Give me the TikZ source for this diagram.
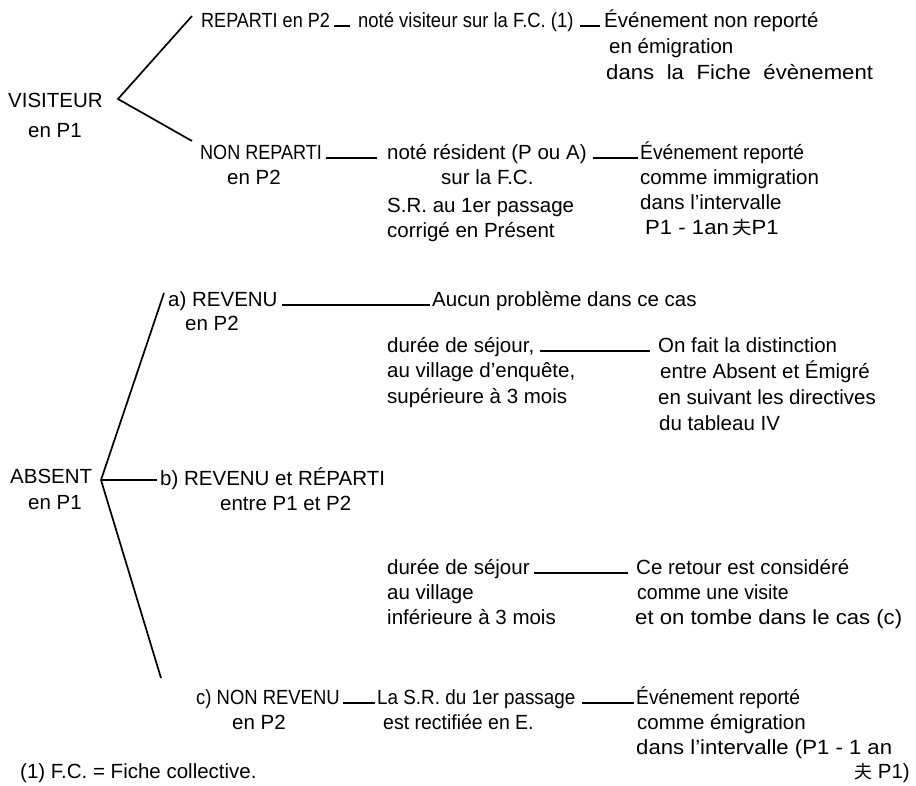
\documentclass[tikz,border=0pt]{standalone}
\usepackage{fontspec}
\setmainfont{Liberation Sans}
\newfontfamily\cjk{Noto Sans CJK SC}
\usetikzlibrary{calc}
\newcommand{\sx}[2]{\scalebox{#1}[1]{#2}}
\newcommand{\cj}{{\cjk\fontsize{18}{20}\selectfont 夫}}
\begin{document}
\begin{tikzpicture}[x=1pt,y=-1pt,
  txt/.style={anchor=base west, inner sep=0pt, font=\fontsize{20.5}{25}\selectfont},
  conn/.style={line width=1.3pt},
  brk/.style={line width=1.7pt, line join=miter}]
\useasboundingbox (0,0) rectangle (916,785);
% ---------- VISITEUR ----------
\node[txt] (vis)  at (8,107)  {VISITEUR};
\node[txt] (visb) at (28,137) {en P1};
\coordinate (vv) at (118,99);
\coordinate (vt) at (192,16);
\coordinate (vb) at (192,141);
\draw[brk] (vt) -- (vv) -- (vb);
% row 1
\node[txt] (rep)  at (201,27) {\sx{0.88}{REPARTI en P2}};
\node[txt] (nv)   at (358,27) {\sx{0.9}{noté visiteur sur la F.C. (1)}};
\node[txt] (e1)   at (604,27) {Événement non reporté};
\node[txt] (e1b)  at (609,53) {en émigration};
\node[txt] (e1c)  at (606,79) {\sx{1.08}{dans\hspace{6pt} la\hspace{6pt} Fiche\hspace{6pt} évènement}};
\draw[conn] ($(rep.base east)+(4,-1)$) -- ($(nv.base west)+(-8,-1)$);
\draw[conn] ($(nv.base east)+(6,-1)$) -- ($(e1.base west)+(-4,-1)$);
% row 2
\node[txt] (nr)    at (200,159) {\sx{0.88}{NON REPARTI}};
\node[txt] (nrb)   at (227,184) {en P2};
\node[txt] (nres)  at (387,159) {noté résident (P ou A)};
\node[txt] (nresb) at (441,184) {sur la F.C.};
\node[txt] (sr)    at (387,212) {S.R. au 1er passage};
\node[txt] (srb)   at (387,237) {corrigé en Présent};
\node[txt] (e2)    at (640,159) {\sx{0.94}{Événement reporté}};
\node[txt] (e2b)   at (640,184) {comme immigration};
\node[txt] (e2c)   at (640,209) {dans l'intervalle};
\node[txt] (e2d)   at (645,234) {\sx{1.08}{P1\;-\;1an\hspace{3pt}\cj P1}};
\draw[conn] ($(nr.base east)+(4,-1)$) -- ($(nres.base west)+(-10,-1)$);
\draw[conn] ($(nres.base east)+(6,-1)$) -- ($(e2.base west)+(-2,-1)$);
% ---------- ABSENT ----------
\node[txt] (abs)  at (10,483) {ABSENT};
\node[txt] (absb) at (28,509) {en P1};
\coordinate (av) at (101,480);
\coordinate (at) at (164,293);
\coordinate (ab) at (161,678);
\draw[brk] (at) -- (av) -- (ab);
% a)
\node[txt] (ra)  at (168,306) {a) REVENU};
\node[txt] (rab) at (185,330) {en P2};
\node[txt] (auc) at (432,306) {Aucun problème dans ce cas};
\draw[conn] ($(ra.base east)+(4,-1)$) -- ($(auc.base west)+(-2,-1)$);
\node[txt] (d1)  at (387,352) {durée de séjour,};
\node[txt] (d1b) at (387,377) {au village d’enquête,};
\node[txt] (d1c) at (387,403) {supérieure à 3 mois};
\node[txt] (of)  at (658,352) {On fait la distinction};
\node[txt] (ofb) at (660,378) {entre Absent et Émigré};
\node[txt] (ofc) at (658,404) {en suivant les directives};
\node[txt] (ofd) at (659,430) {du tableau IV};
\draw[conn] ($(d1.base east)+(6,-1)$) -- ($(of.base west)+(-8,-1)$);
% b)
\node[txt] (rb)  at (160,485) {b) REVENU et RÉPARTI};
\node[txt] (rbb) at (220,510) {entre P1 et P2};
\draw[conn] (av) -- ($(av -| rb.west)+(-3,0)$);
\node[txt] (d2)  at (387,574) {durée de séjour};
\node[txt] (d2b) at (387,599) {au village};
\node[txt] (d2c) at (387,624) {inférieure à 3 mois};
\node[txt] (cr)  at (636,574) {Ce retour est considéré};
\node[txt] (crb) at (637,599) {\sx{0.95}{comme une visite}};
\node[txt] (crc) at (635,624) {\sx{1.08}{et on tombe dans le cas (c)}};
\draw[conn] ($(d2.base east)+(4,-1)$) -- ($(cr.base west)+(-8,-1)$);
% c)
\node[txt] (rc)   at (196,704) {\sx{0.9}{c) NON REVENU}};
\node[txt] (rcb)  at (232,729) {en P2};
\node[txt] (lsr)  at (377,704) {\sx{0.92}{La S.R. du 1er passage}};
\node[txt] (lsrb) at (383,729) {\sx{0.95}{est rectifiée en E.}};
\node[txt] (e3)   at (636,704) {\sx{0.94}{Événement reporté}};
\node[txt] (e3b)  at (637,729) {comme émigration};
\node[txt] (e3c)  at (636,754) {\sx{1.08}{dans l'intervalle (P1\;-\;1 an}};
\node[txt, anchor=base east] (e3d) at (910,778) {\cj\ P1)};
\draw[conn] ($(rc.base east)+(3,-1)$) -- ($(lsr.base west)+(-2,-1)$);
\draw[conn] ($(lsr.base east)+(6,-1)$) -- ($(e3.base west)+(-2,-1)$);
% footnote
\node[txt] (fn) at (20,778) {(1) F.C. = Fiche collective.};
\end{tikzpicture}
\end{document}
